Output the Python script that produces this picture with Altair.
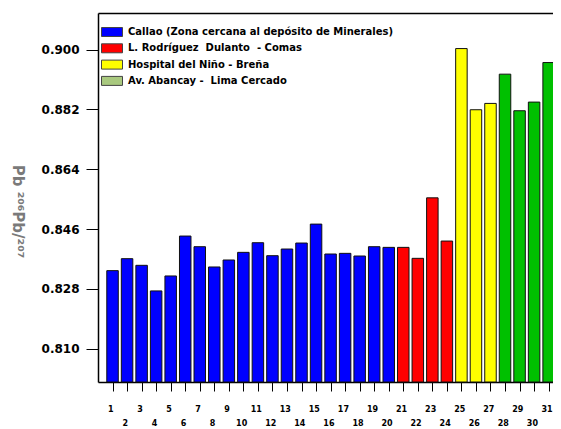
import altair as alt
import pandas as pd

# ---- data ----
samples = list(range(1, 32))
ratios = [0.8335, 0.8371, 0.8351, 0.8274, 0.8319, 0.8439, 0.8407, 0.8346, 0.8367, 0.8390,
          0.8419, 0.8380, 0.8400, 0.8418, 0.8475, 0.8385, 0.8387, 0.8379, 0.8407, 0.8405,
          0.8405, 0.8372, 0.8554, 0.8424,
          0.9003, 0.8819, 0.8838,
          0.8926, 0.8816, 0.8842, 0.8961]
sites = ["Callao (Zona cercana al depósito de Minerales)",
         "L. Rodríguez\u00a0 Dulanto\u00a0 - Comas",
         "Hospital del Niño - Breña",
         "Av. Abancay -\u00a0 Lima Cercado"]
site_counts = [20, 4, 3, 4]
bar_colors = ["#0000ff", "#ff0000", "#ffff00", "#00c000"]
legend_colors = ["#0000ff", "#ff0000", "#ffff00", "#a9c97f"]
y_ticks = [0.810, 0.828, 0.846, 0.864, 0.882, 0.900]
y_domain = [0.800, 0.911]
x_domain = [0, 31.3]

site_col = []
for s, n in zip(sites, site_counts):
    site_col += [s] * n
df = pd.DataFrame({"sample": samples, "ratio": ratios, "site": site_col})

x_scale = alt.Scale(domain=x_domain, nice=False, zero=False, padding=0)
y_scale = alt.Scale(domain=y_domain, nice=False, zero=False)

FONT = "DejaVu Sans"

bars = alt.Chart(df).mark_bar(size=11.5, stroke="#111111", strokeWidth=1).encode(
    x=alt.X("sample:Q", scale=x_scale, axis=alt.Axis(
        values=samples, format="d",
        labelExpr="datum.value % 2 == 0 ? [' ', datum.label] : datum.label",
        labelFont=FONT, labelFontWeight="bold", labelFontSize=8, labelColor="black",
        labelBaseline="top", labelPadding=14, labelLineHeight=14.5, labelOffset=-2.2,
        labelFlush=False, labelOverlap=False,
        tickSize=9, tickColor="black", domainColor="black", domainWidth=1.5,
        grid=False, title=None)),
    y=alt.Y("ratio:Q", scale=y_scale, axis=alt.Axis(
        values=y_ticks, format=".3f",
        labelFont=FONT, labelFontWeight="bold", labelFontSize=12, labelColor="black",
        labelPadding=7, tickSize=12, tickColor="black", domainColor="black", domainWidth=1.5,
        grid=False,
        title="Pb \u00b2\u2070\u2076Pb/\u00b2\u2070\u2077", titleAngle=90,
        titleFont=FONT, titleFontSize=15, titleFontWeight="bold", titleColor="#7a7a7a",
        titleX=-81, titleY=198, titleAlign="center", titleBaseline="middle")),
    y2=alt.Y2Datum(datum=y_domain[0]),
    color=alt.Color("site:N", scale=alt.Scale(domain=sites, range=bar_colors), legend=None),
)

legend_layer = alt.Chart(df).mark_bar(opacity=0).encode(
    x=alt.X("sample:Q", scale=x_scale, axis=alt.Axis(
        orient="top", labels=False, ticks=False, domainColor="black", domainWidth=1.5,
        grid=False, title=None)),
    color=alt.Color("site:N", scale=alt.Scale(domain=sites, range=legend_colors),
                    legend=alt.Legend(
                        orient="none", legendX=7.5, legendY=12.5, direction="vertical",
                        title=None, padding=0,
                        symbolType="M-1.75,-0.75H1.75V0.75H-1.75Z", symbolSize=144,
                        symbolStrokeColor="#444444", symbolStrokeWidth=1, symbolOpacity=1,
                        labelFont=FONT, labelFontSize=10, labelFontWeight="bold",
                        labelColor="black", labelOffset=9.5, rowPadding=3.3, labelLimit=400)),
)

chart = alt.layer(bars, legend_layer).resolve_scale(color="independent").resolve_axis(
    x="independent"
).properties(
    width=455, height=369,
    autosize=alt.AutoSizeParams(type="none"),
    padding={"left": 90, "top": 5, "right": 0, "bottom": 60},
).configure_view(stroke=None)

chart.save("out.html", embed_options={"renderer": "svg", "actions": False})
